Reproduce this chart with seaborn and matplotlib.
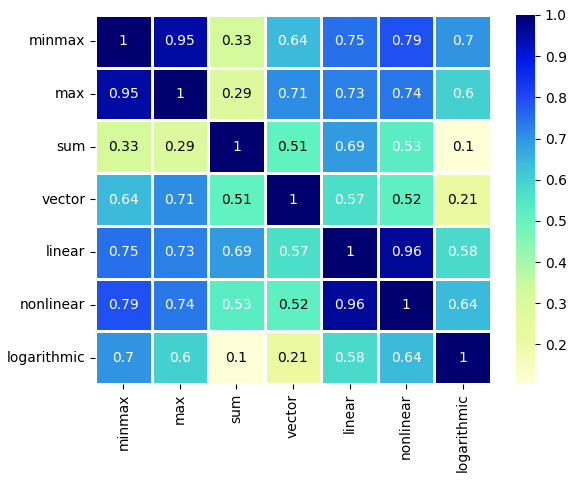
import numpy as np
import pandas as pd
import matplotlib
matplotlib.use('Agg')
import matplotlib.pyplot as plt
import seaborn as sns
from matplotlib.colors import LinearSegmentedColormap

# 各归一化方法之间的相关系数
labels = ['minmax', 'max', 'sum', 'vector', 'linear', 'nonlinear', 'logarithmic']
corr = [
    [1.00, 0.95, 0.33, 0.64, 0.75, 0.79, 0.70],
    [0.95, 1.00, 0.29, 0.71, 0.73, 0.74, 0.60],
    [0.33, 0.29, 1.00, 0.51, 0.69, 0.53, 0.104],
    [0.64, 0.71, 0.51, 1.00, 0.57, 0.52, 0.21],
    [0.75, 0.73, 0.69, 0.57, 1.00, 0.96, 0.58],
    [0.79, 0.74, 0.53, 0.52, 0.96, 1.00, 0.64],
    [0.70, 0.60, 0.104, 0.21, 0.58, 0.64, 1.00],
]

# 颜色方案: 浅黄 -> 青绿 -> 蓝 -> 深蓝
cmap_stops = [
    (0.00, '#ffffd7'),
    (0.12, '#ebfaa0'),
    (0.25, '#d5fa9c'),
    (0.45, '#62f3c0'),
    (0.52, '#4be0c8'),
    (0.60, '#3cbadc'),
    (0.68, '#2d8ce4'),
    (0.78, '#1c48f4'),
    (0.88, '#0018e6'),
    (0.94, '#000ca8'),
    (1.00, '#00006e'),
]
cmap = LinearSegmentedColormap.from_list('ylbu', cmap_stops)

df = pd.DataFrame(corr, index=labels, columns=labels)

W, H = 572, 483
fig = plt.figure(figsize=(W / 100, H / 100), dpi=100)
ax = fig.add_axes([95 / W, 1 - 384 / H, (491 - 95) / W, (384 - 15) / H])
cax = fig.add_axes([516 / W, 1 - 384 / H, (535 - 516) / W, (384 - 15) / H])

sns.heatmap(
    df,
    ax=ax,
    cbar_ax=cax,
    annot=True,
    cmap=cmap,
    linewidths=2,
    linecolor='white',
)

# 文字颜色: 深色格子用白字
for t in ax.texts:
    v = float(t.get_text())
    t.set_color('white' if v >= 0.53 else 'black')

plt.savefig('out.png', dpi=100)
